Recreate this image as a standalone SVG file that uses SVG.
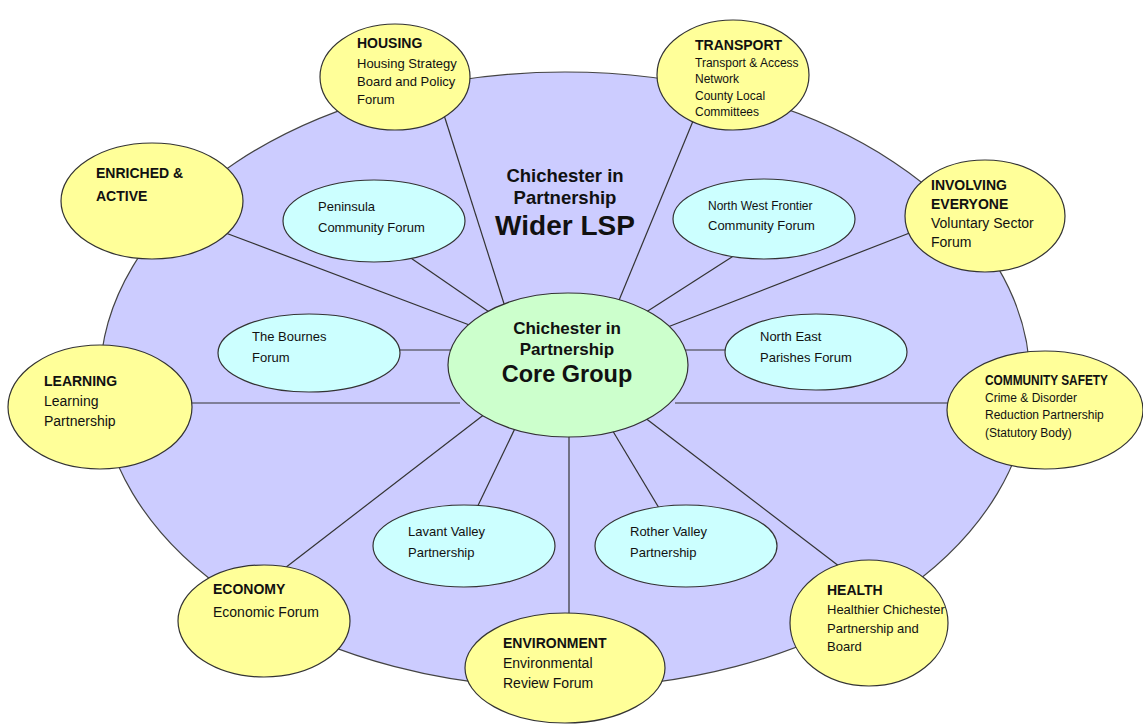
<svg xmlns="http://www.w3.org/2000/svg" width="1143" height="727" viewBox="0 0 1143 727">
  <style>
    .bg { fill: #ffffff; }
    .lsp { fill: #ccccff; stroke: #444; stroke-width: 1.2; }
    .core { fill: #ccffcc; stroke: #333; stroke-width: 1.2; }
    .theme { fill: #ffff99; stroke: #333; stroke-width: 1.2; }
    .forum { fill: #ccffff; stroke: #333; stroke-width: 1.2; }
    .link { stroke: #333; stroke-width: 1.2; fill: none; }
    text { font-family: "Liberation Sans", Arial, sans-serif; fill: #111; }
    .h { font-weight: bold; font-size: 14px; }
    .t { font-size: 14px; }
    .s { font-size: 12px; }
    .f { font-size: 13px; }
    .c { text-anchor: middle; font-weight: bold; }
  </style>
  <rect class="bg" x="0" y="0" width="1143" height="727"/>

  <!-- wider partnership -->
  <g id="wider-lsp">
    <ellipse class="lsp" cx="565" cy="380" rx="465" ry="308"/>
    <text class="c" x="565" y="182" font-size="18.5">Chichester in</text>
    <text class="c" x="565" y="204" font-size="18.5">Partnership</text>
    <text class="c" x="565" y="235" font-size="28">Wider LSP</text>
  </g>

  <!-- connectors -->
  <g id="connectors">
    <line class="link" x1="437" y1="93" x2="506" y2="310"/>
    <line class="link" x1="705" y1="92" x2="615" y2="310"/>
    <line class="link" x1="215" y1="229" x2="480" y2="329"/>
    <line class="link" x1="405" y1="254" x2="495" y2="316"/>
    <line class="link" x1="925" y1="227" x2="660" y2="330"/>
    <line class="link" x1="735" y1="255" x2="640" y2="316"/>
    <line class="link" x1="390" y1="350" x2="460" y2="350"/>
    <line class="link" x1="675" y1="350" x2="735" y2="350"/>
    <line class="link" x1="180" y1="403" x2="460" y2="403"/>
    <line class="link" x1="675" y1="403" x2="960" y2="403"/>
    <line class="link" x1="285" y1="568" x2="490" y2="410"/>
    <line class="link" x1="472" y1="518" x2="520" y2="418"/>
    <line class="link" x1="569" y1="625" x2="569" y2="430"/>
    <line class="link" x1="665" y1="518" x2="605" y2="418"/>
    <line class="link" x1="848" y1="573" x2="640" y2="414"/>
  </g>

  <!-- core group -->
  <g id="core-group">
    <ellipse class="core" cx="568" cy="365" rx="120" ry="72"/>
    <text class="c" x="567" y="334" font-size="17">Chichester in</text>
    <text class="c" x="567" y="355" font-size="17">Partnership</text>
    <text class="c" x="567" y="382" font-size="23.5">Core Group</text>
  </g>

  <!-- community forums -->
  <g id="peninsula">
    <ellipse class="forum" cx="374" cy="221" rx="91" ry="41"/>
    <text class="f" x="318" y="211">Peninsula</text>
    <text class="f" x="318" y="232">Community Forum</text>
  </g>
  <g id="north-west-frontier">
    <ellipse class="forum" cx="764" cy="219" rx="91" ry="40"/>
    <text class="s" x="708" y="210">North West Frontier</text>
    <text class="f" x="708" y="230">Community Forum</text>
  </g>
  <g id="bournes">
    <ellipse class="forum" cx="309" cy="353" rx="91" ry="39"/>
    <text class="f" x="252" y="341">The Bournes</text>
    <text class="f" x="252" y="362">Forum</text>
  </g>
  <g id="north-east-parishes">
    <ellipse class="forum" cx="816" cy="352" rx="91" ry="38"/>
    <text class="f" x="760" y="341">North East</text>
    <text class="f" x="760" y="362">Parishes Forum</text>
  </g>
  <g id="lavant-valley">
    <ellipse class="forum" cx="464" cy="546" rx="91" ry="41"/>
    <text class="f" x="408" y="536">Lavant Valley</text>
    <text class="f" x="408" y="557">Partnership</text>
  </g>
  <g id="rother-valley">
    <ellipse class="forum" cx="686" cy="546" rx="91" ry="41"/>
    <text class="f" x="630" y="536">Rother Valley</text>
    <text class="f" x="630" y="557">Partnership</text>
  </g>

  <!-- themed partnerships -->
  <g id="housing">
    <ellipse class="theme" cx="395" cy="77" rx="75" ry="53"/>
    <text class="h" x="357" y="48">HOUSING</text>
    <text class="f" x="357" y="68">Housing Strategy</text>
    <text class="f" x="357" y="86">Board and Policy</text>
    <text class="f" x="357" y="104">Forum</text>
  </g>
  <g id="transport">
    <ellipse class="theme" cx="733" cy="75" rx="76" ry="55"/>
    <text class="h" x="695" y="50" font-size="12">TRANSPORT</text>
    <text class="s" x="695" y="67">Transport &amp; Access</text>
    <text class="s" x="695" y="83">Network</text>
    <text class="s" x="695" y="100">County Local</text>
    <text class="s" x="695" y="116">Committees</text>
  </g>
  <g id="involving-everyone">
    <ellipse class="theme" cx="985" cy="216" rx="80" ry="56"/>
    <text class="h" x="931" y="190" font-size="12.5">INVOLVING</text>
    <text class="h" x="931" y="209" font-size="12.5">EVERYONE</text>
    <text class="t" x="931" y="228">Voluntary Sector</text>
    <text class="t" x="931" y="247">Forum</text>
  </g>
  <g id="community-safety">
    <ellipse class="theme" cx="1045" cy="410" rx="98" ry="59"/>
    <text class="h" x="985" y="385" font-size="12" textLength="123" lengthAdjust="spacingAndGlyphs">COMMUNITY SAFETY</text>
    <text class="s" x="985" y="402">Crime &amp; Disorder</text>
    <text class="s" x="985" y="419">Reduction Partnership</text>
    <text class="s" x="985" y="437">(Statutory Body)</text>
  </g>
  <g id="health">
    <ellipse class="theme" cx="869" cy="623" rx="79" ry="63"/>
    <text class="h" x="827" y="595">HEALTH</text>
    <text class="f" x="827" y="614">Healthier Chichester</text>
    <text class="f" x="827" y="633">Partnership and</text>
    <text class="f" x="827" y="651">Board</text>
  </g>
  <g id="environment">
    <ellipse class="theme" cx="565" cy="668" rx="100" ry="55"/>
    <text class="h" x="503" y="648">ENVIRONMENT</text>
    <text class="t" x="503" y="668">Environmental</text>
    <text class="t" x="503" y="688">Review Forum</text>
  </g>
  <g id="economy">
    <ellipse class="theme" cx="264" cy="621" rx="86" ry="56"/>
    <text class="h" x="213" y="594">ECONOMY</text>
    <text class="t" x="213" y="617">Economic Forum</text>
  </g>
  <g id="learning">
    <ellipse class="theme" cx="100" cy="407" rx="92" ry="62"/>
    <text class="h" x="44" y="386">LEARNING</text>
    <text class="t" x="44" y="406">Learning</text>
    <text class="t" x="44" y="426">Partnership</text>
  </g>
  <g id="enriched-active">
    <ellipse class="theme" cx="152" cy="201" rx="91" ry="58"/>
    <text class="h" x="96" y="178">ENRICHED &amp;</text>
    <text class="h" x="96" y="201">ACTIVE</text>
  </g>
</svg>
